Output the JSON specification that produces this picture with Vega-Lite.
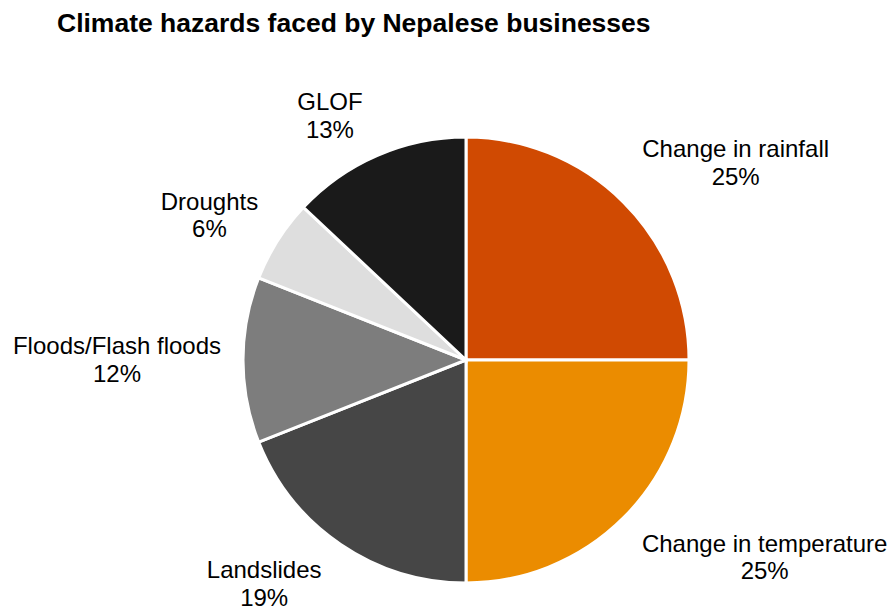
{
  "$schema": "https://vega.github.io/schema/vega-lite/v6.json",
  "width": 850,
  "height": 502,
  "autosize": {"type": "none"},
  "padding": {"left": 41, "top": 109, "right": 0, "bottom": 0},
  "background": "white",
  "title": {
    "text": "Climate hazards faced by Nepalese businesses",
    "anchor": "start",
    "frame": "group",
    "dx": 16,
    "dy": -50,
    "font": "Liberation Sans",
    "fontSize": 26.5,
    "fontWeight": "bold",
    "color": "#000000"
  },
  "data": {
    "values": [
      {"hazard": "Change in rainfall", "share": 25, "rank": 1},
      {"hazard": "Change in temperature", "share": 25, "rank": 2},
      {"hazard": "Landslides", "share": 19, "rank": 3},
      {"hazard": "Floods/Flash floods", "share": 12, "rank": 4},
      {"hazard": "Droughts", "share": 6, "rank": 5},
      {"hazard": "GLOF", "share": 13, "rank": 6}
    ]
  },
  "encoding": {
    "theta": {"field": "share", "type": "quantitative", "stack": true},
    "order": {"field": "rank", "type": "quantitative"}
  },
  "layer": [
    {
      "mark": {"type": "arc", "outerRadius": 223, "stroke": "white", "strokeWidth": 3},
      "encoding": {
        "color": {
          "field": "hazard",
          "type": "nominal",
          "scale": {
            "domain": ["Change in rainfall", "Change in temperature", "Landslides", "Floods/Flash floods", "Droughts", "GLOF"],
            "range": ["#D04A02", "#EB8C00", "#464646", "#7D7D7D", "#DEDEDE", "#1A1A1A"]
          },
          "legend": null
        }
      }
    },
    {
      "mark": {
        "type": "text",
        "radius": 247,
        "font": "Liberation Sans",
        "fontSize": 24,
        "lineHeight": 27.5,
        "align": "center",
        "baseline": "middle",
        "fill": "#000000",
        "text": {"expr": "[datum.hazard, datum.share + '%']"},
        "dx": {"expr": "datum.hazard === 'Change in rainfall' ? 95 : datum.hazard === 'Change in temperature' ? 124 : datum.hazard === 'Landslides' ? -63 : datum.hazard === 'Floods/Flash floods' ? -102 : datum.hazard === 'Droughts' ? -48 : -38"},
        "dy": {"expr": "datum.hazard === 'Change in rainfall' ? -35 : datum.hazard === 'Change in temperature' ? 10 : datum.hazard === 'Landslides' ? 7 : datum.hazard === 'Floods/Flash floods' ? -13 : datum.hazard === 'Droughts' ? -25 : -30"}
      },
      "encoding": {
        "detail": {"field": "hazard", "type": "nominal"}
      }
    }
  ]
}
